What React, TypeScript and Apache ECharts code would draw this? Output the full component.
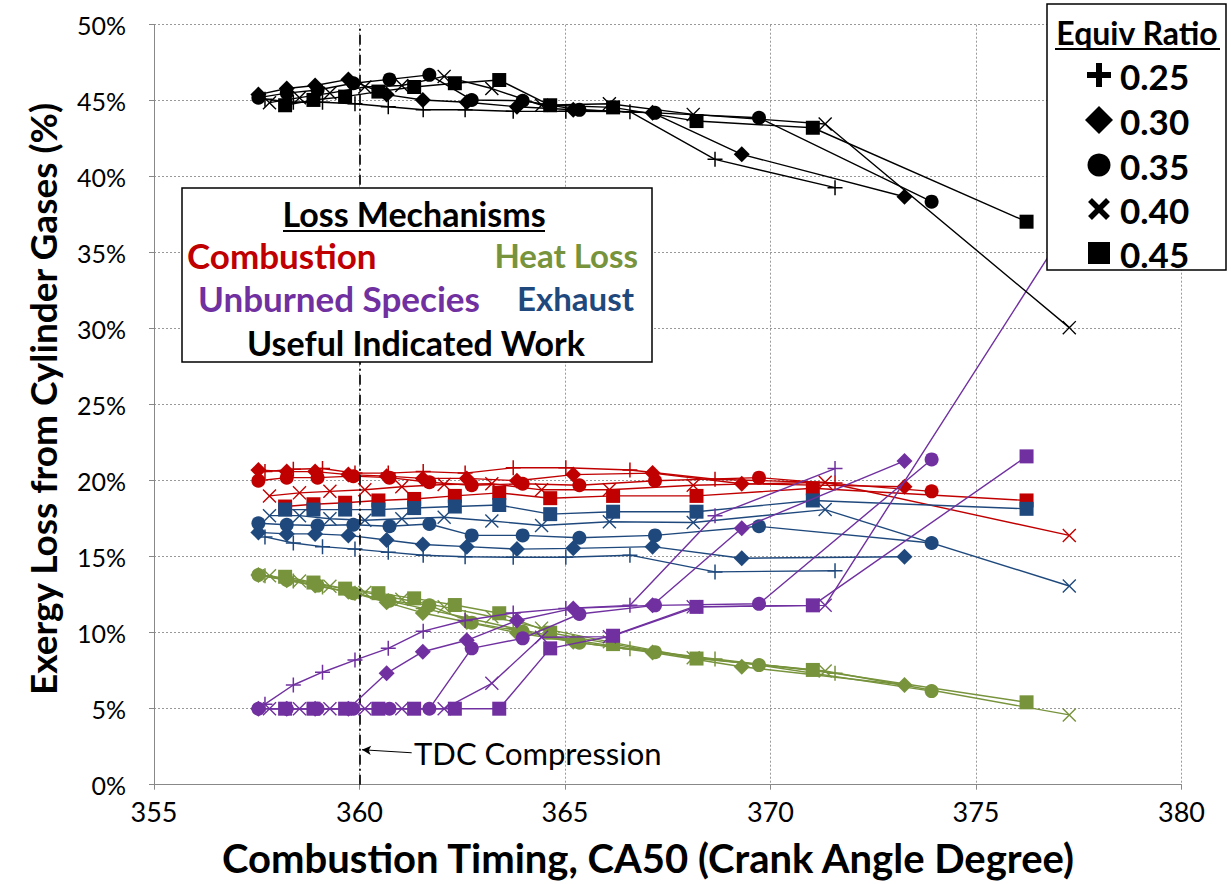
import React, { useEffect, useRef } from 'react';
import * as echarts from 'echarts';

// ---- Data ----
const phiLabels = ['0.25', '0.30', '0.35', '0.40', '0.45'];
const xTicks = [355, 360, 365, 370, 375, 380];
const yTicks = [0, 5, 10, 15, 20, 25, 30, 35, 40, 45, 50];

const ca50Phi025 = [357.70, 358.39, 359.10, 359.89, 360.70, 361.55, 362.57, 363.74, 365.02, 366.58, 368.65, 371.57];
const ca50Phi030 = [357.54, 358.23, 358.92, 359.73, 360.66, 361.54, 362.61, 363.83, 365.20, 367.13, 369.30, 373.26];
const ca50Phi035 = [357.54, 358.23, 358.98, 359.85, 360.73, 361.70, 362.73, 363.97, 365.35, 367.19, 369.72, 373.92];
const ca50Phi040 = [357.81, 358.54, 359.28, 360.13, 361.03, 362.06, 363.22, 364.43, 366.08, 368.12, 371.33, 377.27];
const ca50Phi045 = [358.19, 358.88, 359.65, 360.46, 361.33, 362.32, 363.40, 364.64, 366.17, 368.20, 371.03, 376.23];

const combustionPhi025 = [20.6, 20.75, 20.8, 20.5, 20.5, 20.6, 20.5, 20.85, 20.85, 20.7, 20.1, 19.85];
const combustionPhi030 = [20.7, 20.6, 20.6, 20.4, 20.3, 20.15, 20.15, 20.0, 20.4, 20.5, 19.8, 19.6];
const combustionPhi035 = [20.0, 20.2, 20.2, 20.3, 20.2, 19.9, 19.7, 19.8, 19.7, 20.0, 20.2, 19.3];
const combustionPhi040 = [19.0, 19.2, 19.3, 19.4, 19.6, 19.75, 19.8, 19.4, 19.4, 19.7, 19.9, 16.4];
const combustionPhi045 = [18.3, 18.45, 18.55, 18.7, 18.8, 19.0, 19.2, 18.85, 19.0, 19.0, 19.5, 18.7];

const heatLossPhi025 = [13.75, 13.4, 13.0, 12.6, 12.1, 11.6, 11.0, 10.3, 9.6, 8.95, 8.27, 7.33];
const heatLossPhi030 = [13.8, 13.45, 13.1, 12.7, 12.0, 11.3, 10.7, 10.0, 9.4, 8.7, 7.76, 6.56];
const heatLossPhi035 = [13.8, 13.47, 13.1, 12.6, 12.1, 11.8, 10.66, 10.07, 9.34, 8.72, 7.87, 6.16];
const heatLossPhi040 = [13.75, 13.4, 13.05, 12.65, 12.2, 11.7, 11.05, 10.3, 9.4, 8.35, 7.48, 4.59];
const heatLossPhi045 = [13.68, 13.3, 12.9, 12.6, 12.26, 11.82, 11.28, 10.0, 9.25, 8.3, 7.55, 5.42];

const unburnedPhi025 = [5.3, 6.56, 7.4, 8.2, 8.97, 10.1, 10.8, 11.3, 11.6, 11.8, 17.7, 20.8];
const unburnedPhi030 = [5, 5, 5, 5, 7.33, 8.75, 9.5, 10.8, 11.6, 11.8, 16.87, 21.3];
const unburnedPhi035 = [5, 5, 5, 5, 5, 5, 8.97, 9.63, 11.23, 11.8, 11.9, 21.4];
const unburnedPhi040 = [5, 5, 5, 5, 5, 5, 6.67, 9.7, 9.74, 11.7, 11.8, 36.9];
const unburnedPhi045 = [5, 5, 5, 5, 5, 5, 5, 8.97, 9.8, 11.7, 11.8, 21.6];

const exhaustPhi025 = [16.3, 15.9, 15.66, 15.5, 15.3, 15.1, 15.0, 14.96, 14.96, 15.1, 14.0, 14.08];
const exhaustPhi030 = [16.6, 16.5, 16.5, 16.4, 16.1, 15.8, 15.66, 15.5, 15.55, 15.66, 14.9, 15.0];
const exhaustPhi035 = [17.2, 17.1, 17.05, 17.1, 17.0, 17.15, 16.4, 16.4, 16.25, 16.4, 17.0, 15.9];
const exhaustPhi040 = [17.7, 17.7, 17.5, 17.4, 17.5, 17.6, 17.35, 17.05, 17.3, 17.25, 18.1, 13.07];
const exhaustPhi045 = [18.1, 18.1, 18.1, 18.1, 18.2, 18.3, 18.4, 17.8, 17.96, 17.96, 18.7, 18.15];

const workPhi025 = [45.1, 44.9, 44.9, 44.8, 44.6, 44.4, 44.4, 44.3, 44.3, 44.28, 41.14, 39.28];
const workPhi030 = [45.4, 45.8, 46.0, 46.4, 45.4, 45.05, 44.9, 44.6, 44.4, 44.2, 41.47, 38.68];
const workPhi035 = [45.2, 45.5, 45.7, 46.15, 46.4, 46.7, 45.05, 45.0, 44.4, 44.2, 43.88, 38.36];
const workPhi040 = [44.87, 45.2, 45.5, 45.9, 46.0, 46.6, 45.8, 44.7, 44.8, 44.1, 43.47, 30.07];
const workPhi045 = [44.7, 45.05, 45.27, 45.6, 45.9, 46.15, 46.36, 44.7, 44.56, 43.66, 43.22, 37.04];

const ca50ByPhi = [ca50Phi025, ca50Phi030, ca50Phi035, ca50Phi040, ca50Phi045];

const mechanisms = [
  { name: 'Combustion', color: '#C00000', values: [combustionPhi025, combustionPhi030, combustionPhi035, combustionPhi040, combustionPhi045] },
  { name: 'Heat Loss', color: '#77933C', values: [heatLossPhi025, heatLossPhi030, heatLossPhi035, heatLossPhi040, heatLossPhi045] },
  { name: 'Exhaust', color: '#1F497D', values: [exhaustPhi025, exhaustPhi030, exhaustPhi035, exhaustPhi040, exhaustPhi045] },
  { name: 'Unburned Species', color: '#7030A0', values: [unburnedPhi025, unburnedPhi030, unburnedPhi035, unburnedPhi040, unburnedPhi045] },
  { name: 'Useful Indicated Work', color: '#000000', values: [workPhi025, workPhi030, workPhi035, workPhi040, workPhi045] },
];

const PLUS = 'path://M9,0H11V9H20V11H11V20H9V11H0V9H9Z';
const CROSS = 'path://M0,1.4L1.4,0L10,8.6L18.6,0L20,1.4L11.4,10L20,18.6L18.6,20L10,11.4L1.4,20L0,18.6L8.6,10Z';
const phiSymbols = [PLUS, 'diamond', 'circle', CROSS, 'rect'];
const phiSymbolSizes = [15, 16, 14, 14, 14];

const FONT = 'Lato, "Open Sans", sans-serif';

export default function App() {
  const ref = useRef<HTMLDivElement>(null);

  useEffect(() => {
    if (!ref.current) return;
    const chart = echarts.init(ref.current, undefined, { renderer: 'svg' });

    const series: any[] = [];
    mechanisms.forEach((m, mi) => {
      m.values.forEach((vals, pi) => {
        const s: any = {
          type: 'line',
          name: m.name + ' ' + phiLabels[pi],
          data: ca50ByPhi[pi].map((x, j) => [x, vals[j]]),
          symbol: phiSymbols[pi],
          symbolSize: phiSymbolSizes[pi],
          showAllSymbol: true,
          lineStyle: { color: m.color, width: 1.4 },
          itemStyle: { color: m.color },
          z: 2 + mi,
          silent: true,
        };
        if (mi === 0 && pi === 0) {
          s.markLine = {
            silent: true,
            symbol: ['none', 'none'],
            label: { show: false },
            lineStyle: { color: '#111', width: 1.8, type: [10, 4, 2, 4] },
            data: [{ xAxis: 360 }],
          };
        }
        if (mi === 0 && pi === 1) {
          s.markLine = {
            silent: true,
            symbol: ['none', 'arrow'],
            symbolSize: [7, 9],
            label: { show: false },
            lineStyle: { color: '#000', width: 1, type: 'solid' },
            data: [[{ coord: [361.27, 2.1] }, { coord: [360.06, 2.3] }]],
          };
        }
        series.push(s);
      });
    });

    const legendY = [75, 120, 165, 209, 253];
    const symX = 1099;
    const legendSymbols: any[] = [
      { type: 'rect', shape: { x: symX - 12, y: legendY[0] - 3, width: 24, height: 6 }, style: { fill: '#000' }, z: 100 },
      { type: 'rect', shape: { x: symX - 3, y: legendY[0] - 12, width: 6, height: 24 }, style: { fill: '#000' }, z: 100 },
      { type: 'polygon', shape: { points: [[symX, legendY[1] - 14], [symX + 14, legendY[1]], [symX, legendY[1] + 14], [symX - 14, legendY[1]]] }, style: { fill: '#000' }, z: 100 },
      { type: 'circle', shape: { cx: symX, cy: legendY[2], r: 11.5 }, style: { fill: '#000' }, z: 100 },
      { type: 'line', shape: { x1: symX - 9, y1: legendY[3] - 9, x2: symX + 9, y2: legendY[3] + 9 }, style: { stroke: '#000', lineWidth: 5.5 }, z: 100 },
      { type: 'line', shape: { x1: symX - 9, y1: legendY[3] + 9, x2: symX + 9, y2: legendY[3] - 9 }, style: { stroke: '#000', lineWidth: 5.5 }, z: 100 },
      { type: 'rect', shape: { x: symX - 11, y: legendY[4] - 11, width: 22, height: 22 }, style: { fill: '#000' }, z: 100 },
    ];
    const legendTexts = phiLabels.map((t, i) => ({
      type: 'text', x: 1120, y: legendY[i] + 1, z: 101,
      style: { text: t, fill: '#000', font: `bold 35px ${FONT}`, align: 'left', verticalAlign: 'middle' },
    }));

    const mechText = (text: string, x: number, y: number, color: string, align = 'left', size = 34) => ({
      type: 'text', x, y, z: 101,
      style: { text, fill: color, font: `bold ${size}px ${FONT}`, align, verticalAlign: 'middle' },
    });

    const option: any = {
      animation: false,
      backgroundColor: '#fff',
      grid: { left: 154, right: 49.5, top: 24.7, bottom: 99.3, containLabel: false },
      xAxis: {
        type: 'value', min: xTicks[0], max: xTicks[xTicks.length - 1], interval: 5,
        axisLine: { show: true, lineStyle: { color: '#888', width: 1 } },
        axisTick: { show: true, length: 5, lineStyle: { color: '#888' } },
        axisLabel: { fontSize: 27, color: '#000', fontFamily: FONT, margin: 13 },
        splitLine: { show: true, lineStyle: { color: '#999', type: [2, 2], width: 1 } },
      },
      yAxis: {
        type: 'value', min: yTicks[0], max: yTicks[yTicks.length - 1], interval: 5,
        axisLine: { show: true, lineStyle: { color: '#888', width: 1 } },
        axisTick: { show: true, length: 5, lineStyle: { color: '#888' } },
        axisLabel: { fontSize: 25, color: '#000', fontFamily: FONT, margin: 28, formatter: '{value}%' },
        splitLine: { show: true, lineStyle: { color: '#999', type: [2, 2], width: 1 } },
      },
      series,
      graphic: [
        // axis titles
        {
          type: 'text', x: 42, y: 399, rotation: Math.PI / 2, z: 100,
          style: { text: 'Exergy Loss from Cylinder Gases (%)', fill: '#000', font: `bold 37px ${FONT}`, align: 'center', verticalAlign: 'middle' },
        },
        {
          type: 'text', x: 648, y: 858, z: 100,
          style: { text: 'Combustion Timing, CA50 (Crank Angle Degree)', fill: '#000', font: `bold 40px ${FONT}`, align: 'center', verticalAlign: 'middle' },
        },
        // TDC annotation
        {
          type: 'text', x: 414, y: 753, z: 100,
          style: { text: 'TDC Compression', fill: '#000', font: `31px ${FONT}`, align: 'left', verticalAlign: 'middle' },
        },
        // Loss mechanisms box
        { type: 'rect', shape: { x: 182, y: 188, width: 470, height: 174 }, style: { fill: '#fff', stroke: '#000', lineWidth: 1.5 }, z: 99 },
        mechText('Loss Mechanisms', 414, 213, '#000', 'center'),
        { type: 'line', shape: { x1: 283, y1: 231, x2: 545, y2: 231 }, style: { stroke: '#000', lineWidth: 2 }, z: 101 },
        mechText('Combustion', 187, 255, '#C00000', 'left', 35),
        mechText('Heat Loss', 638, 255, '#77933C', 'right', 33),
        mechText('Unburned Species', 198, 298, '#7030A0', 'left', 35),
        mechText('Exhaust', 634, 298, '#1F497D', 'right', 33),
        mechText('Useful Indicated Work', 416, 342, '#000', 'center', 34),
        // Equiv ratio legend
        { type: 'rect', shape: { x: 1047, y: 4, width: 179, height: 266 }, style: { fill: '#fff', stroke: '#000', lineWidth: 1.5 }, z: 99 },
        {
          type: 'text', x: 1137, y: 32, z: 101,
          style: { text: 'Equiv Ratio', fill: '#000', font: `bold 32px ${FONT}`, align: 'center', verticalAlign: 'middle' },
        },
        { type: 'line', shape: { x1: 1055, y1: 49, x2: 1220, y2: 49 }, style: { stroke: '#000', lineWidth: 2 }, z: 101 },
        ...legendSymbols,
        ...legendTexts,
      ],
    };

    chart.setOption(option);
    return () => chart.dispose();
  }, []);

  return <div ref={ref} style={{ position: 'fixed', left: 0, top: 0, width: 1231, height: 884 }} />;
}
